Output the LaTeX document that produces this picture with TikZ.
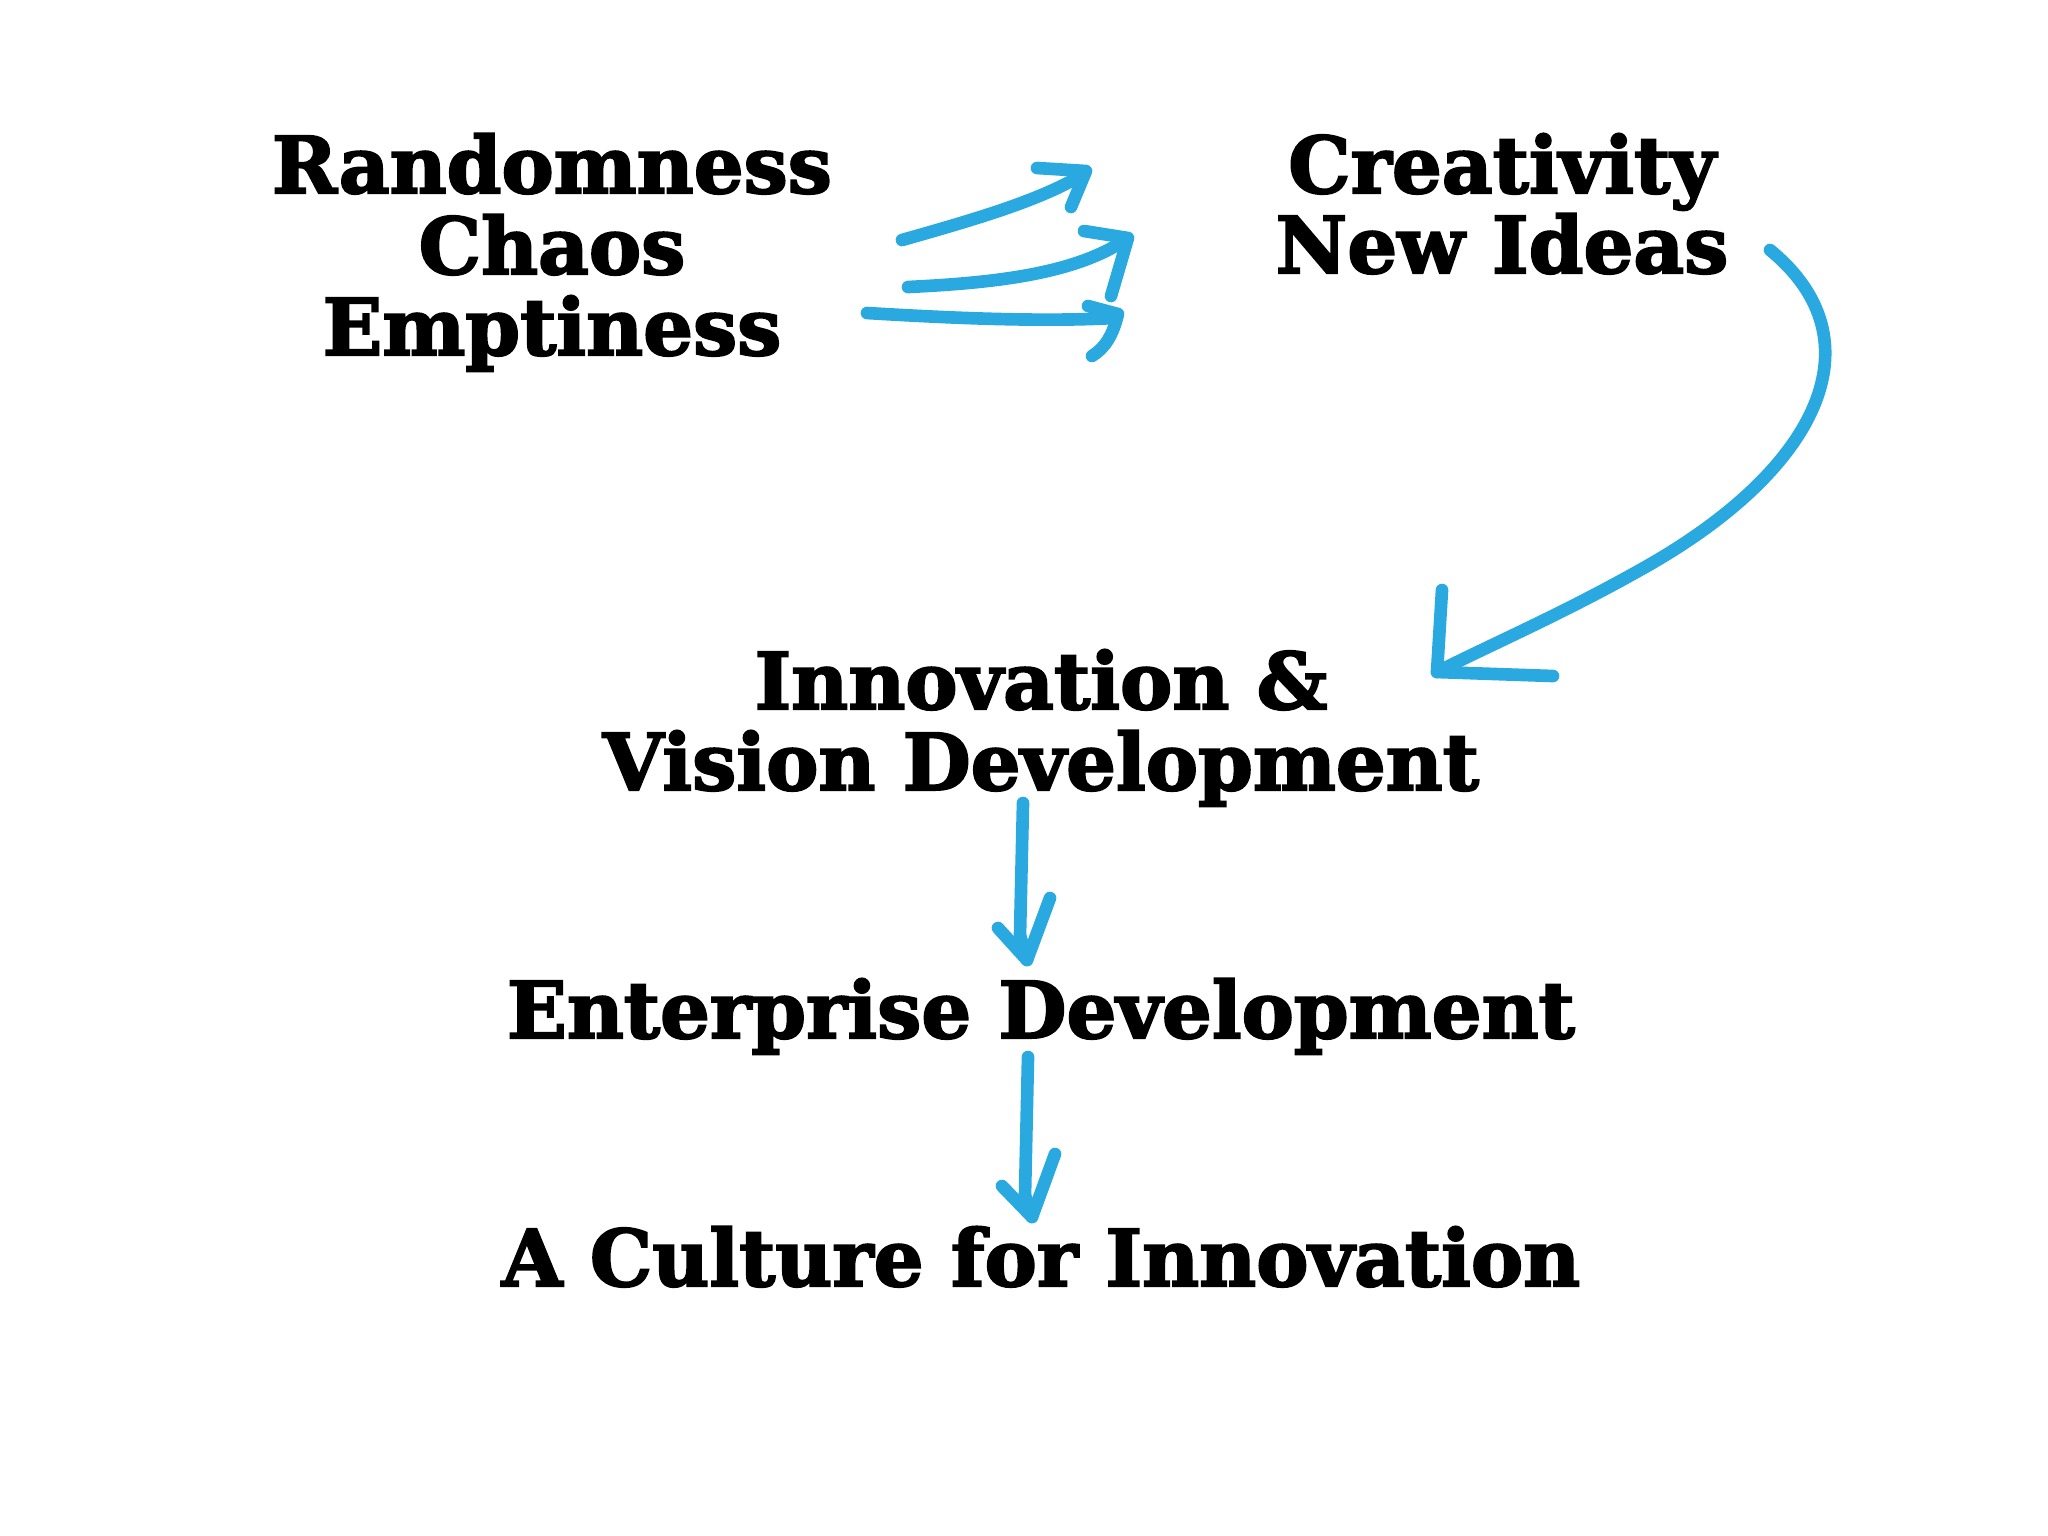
\documentclass[tikz,border=0pt]{standalone}
\usepackage{fontspec}
\newfontfamily\cb{DejaVu Serif}[BoldFeatures={FakeBold=2.5}]
\definecolor{brush}{RGB}{41,169,224}
\begin{document}
\begin{tikzpicture}[x=0.01cm,y=-0.01cm,
  lbl/.style={anchor=base,inner sep=0pt,font=\cb\bfseries\fontsize{22.3}{22.3}\selectfont},
  stroke/.style={draw=brush,line width=3.6pt,line cap=round,line join=round}]
\useasboundingbox (0,0) rectangle (2048,1535);
% left block
\node[lbl] (r1) at (552,193) {Randomness};
\node[lbl] (r2) at (552,274) {Chaos};
\node[lbl] (r3) at (552,355) {Emptiness};
% right block
\node[lbl] (c1) at (1502,193) {Creativity};
\node[lbl] (c2) at (1502,273) {New Ideas};
% middle
\node[lbl] (i1) at (1041,709) {Innovation \&};
\node[lbl] (i2) at (1041,790) {Vision Development};
\node[lbl] (e1) at (1041,1038) {Enterprise Development};
\node[lbl] (a1) at (1041,1286) {A Culture for Innovation};
% arrow coordinates
\coordinate (s1) at (902,240); \coordinate (t1) at (1082,175);
\coordinate (s2) at (908,287); \coordinate (t2) at (1122,242);
\coordinate (s3) at (867,313); \coordinate (t3) at (1114,318);
\coordinate (s4) at (1770,250); \coordinate (t4) at (1437,672);
\coordinate (s5) at (1023,803); \coordinate (t5) at (1027,960);
\coordinate (s6) at (1028,1057); \coordinate (t6) at (1032,1217);
% three small arrows
\draw[stroke] (s1) .. controls (980,218) and (1040,200) .. (t1);
\draw[stroke] (1037,168) -- (1086,171) -- (1071,207);
\draw[stroke] (s2) .. controls (990,283) and (1070,275) .. (t2);
\draw[stroke] (1084,231) -- (1128,238) -- (1111,296);
\draw[stroke] (s3) .. controls (950,318) and (1040,322) .. (t3);
\draw[stroke] (1088,306) -- (1118,314) .. controls (1113,335) and (1105,348) .. (1092,356);
% big curved arrow
\draw[stroke] (s4) .. controls (1880,340) and (1820,470) .. (1640,570)
  .. controls (1560,615) and (1490,645) .. (t4);
\draw[stroke] (1442,590) -- (t4) -- (1553,676);
% down arrows
\draw[stroke] (s5) -- (1020,935) -- (t5);
\draw[stroke] (998,928) -- (t5) -- (1050,898);
\draw[stroke] (s6) -- (1025,1195) -- (t6);
\draw[stroke] (1002,1186) -- (t6) -- (1055,1154);
\end{tikzpicture}
\end{document}
